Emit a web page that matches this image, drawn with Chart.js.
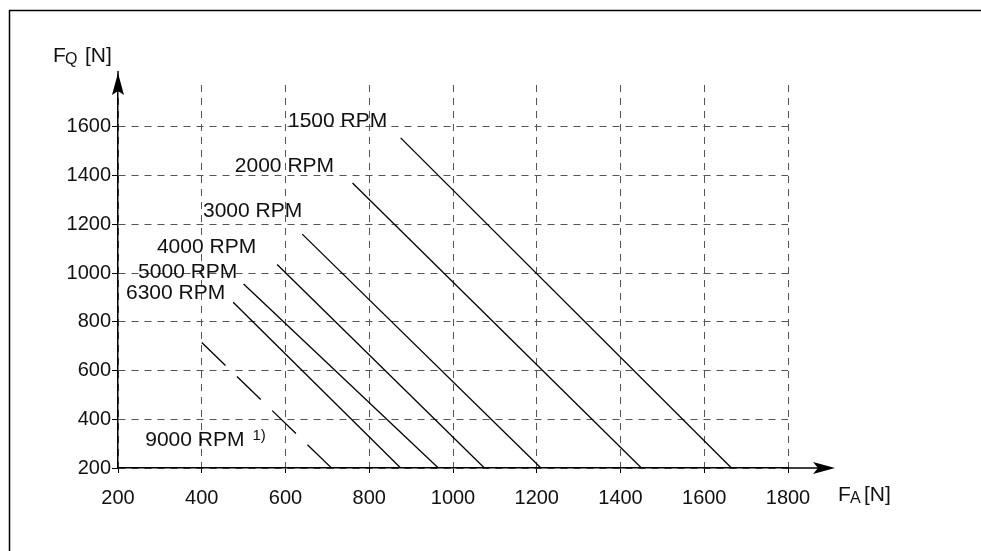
<!DOCTYPE html>
<html>
<head>
<meta charset="utf-8">
<script src="https://cdn.jsdelivr.net/npm/chart.js@4.4.0/dist/chart.umd.min.js"></script>
<style>
  html, body { margin: 0; padding: 0; background: #fff; }
  #wrap { width: 981px; height: 551px; position: relative; }
</style>
</head>
<body>
<div id="wrap"><canvas id="loadChart"></canvas></div>
<script>
// permissible radial load F_Q against axial load F_A, one line per speed
let speeds = ["1500", "2000", "3000", "4000", "5000", "6300", "9000"];
let axialStart = [875, 760, 640, 580, 500, 475, 400];
let radialStart = [1555, 1370, 1160, 1035, 955, 880, 715];
let axialEnd = [1665, 1450, 1210, 1075, 965, 875, 710];
let radialEnd = [200, 200, 200, 200, 200, 200, 200];

// where each speed caption sits (left end, baseline) in axis units
let labelAxial = [606, 479, 403, 293, 248, 219, 265];
let labelRadial = [1600, 1415, 1230, 1083, 980, 894, 290];

let xTicks = [200, 400, 600, 800, 1000, 1200, 1400, 1600, 1800];
let yTicks = [200, 400, 600, 800, 1000, 1200, 1400, 1600];

let font = "'Liberation Sans', Arial, sans-serif";
let ink = "#111";

let datasets = speeds.map((s, i) => ({
    label: s + " RPM",
    data: [{x: axialStart[i], y: radialStart[i]}, {x: axialEnd[i], y: radialEnd[i]}],
    showLine: true,
    borderColor: "#000",
    borderWidth: 1.3,
    borderDash: s === "9000" ? [33, 16] : [],
    pointRadius: 0,
    fill: false
}));

// frame, arrows, axis names and speed captions
let extras = {
    id: "extras",
    afterDraw(chart) {
        let c = chart.ctx;
        let a = chart.chartArea;
        let sx = chart.scales.x, sy = chart.scales.y;
        c.save();

        c.strokeStyle = "#000";
        c.lineWidth = 1.5;
        c.strokeRect(9.5, 10.5, 1100, 700);

        // axis extensions with arrow heads
        c.beginPath();
        c.moveTo(a.left, a.top);
        c.lineTo(a.left, a.top - 14);
        c.moveTo(a.right, a.bottom);
        c.lineTo(a.right + 30, a.bottom);
        c.stroke();
        c.fillStyle = "#000";
        c.beginPath();
        c.moveTo(a.left, a.top - 12);
        c.lineTo(a.left - 6, a.top + 10);
        c.lineTo(a.left, a.top + 6);
        c.lineTo(a.left + 6, a.top + 10);
        c.closePath();
        c.fill();
        c.beginPath();
        c.moveTo(a.right + 47, a.bottom);
        c.lineTo(a.right + 25, a.bottom - 6);
        c.lineTo(a.right + 30, a.bottom);
        c.lineTo(a.right + 25, a.bottom + 6);
        c.closePath();
        c.fill();

        c.fillStyle = ink;
        c.textBaseline = "alphabetic";
        c.textAlign = "left";

        // F_Q [N]
        let qx = a.left - 65, qy = a.top - 23;
        c.font = "21px " + font;
        c.fillText("F", qx, qy);
        c.font = "16px " + font;
        c.fillText("Q", qx + 12, qy + 2);
        c.font = "21px " + font;
        c.fillText("[N]", qx + 32, qy);

        // F_A [N]
        let ax = a.right + 50, ay = a.bottom + 33;
        c.fillText("F", ax, ay);
        c.font = "16px " + font;
        c.fillText("A", ax + 12, ay + 2);
        c.font = "21px " + font;
        c.fillText("[N]", ax + 26, ay);

        speeds.forEach((s, i) => {
            let px = sx.getPixelForValue(labelAxial[i]);
            let py = sy.getPixelForValue(labelRadial[i]);
            c.font = "21px " + font;
            let txt = s + " RPM";
            c.fillText(txt, px, py);
            if (s === "9000") {
                let w = c.measureText(txt).width;
                c.font = "15px " + font;
                c.fillText("1)", px + w + 8, py - 6);
            }
        });
        c.restore();
    }
};

let plain = v => String(v);

let chart = new Chart(document.getElementById("loadChart").getContext("2d"), {
    type: "scatter",
    data: { datasets: datasets },
    options: {
        responsive: true,
        maintainAspectRatio: false,
        animation: false,
        layout: { padding: { left: 0, top: 85, right: 193, bottom: 0 } },
        plugins: {
            legend: { display: false },
            tooltip: { enabled: false }
        },
        scales: {
            x: {
                type: "linear",
                min: 200,
                max: 1800,
                afterBuildTicks: s => { s.ticks = xTicks.map(v => ({value: v})); },
                afterFit: s => { s.height = 83; },
                grid: { color: "#555", lineWidth: 1, tickLength: 5, tickColor: "#000" },
                border: { color: "#000", width: 1.5, dash: [7, 6] },
                ticks: {
                    color: ink,
                    font: { family: font, size: 20 },
                    padding: 13,
                    maxRotation: 0,
                    autoSkip: false,
                    callback: plain
                }
            },
            y: {
                type: "linear",
                min: 200,
                max: 1772,
                afterBuildTicks: s => { s.ticks = yTicks.map(v => ({value: v})); },
                afterFit: s => { s.width = 118; },
                grid: { color: "#555", lineWidth: 1, tickLength: 6, tickColor: "#000" },
                border: { color: "#000", width: 1.5, dash: [7, 6] },
                ticks: {
                    color: ink,
                    font: { family: font, size: 20 },
                    padding: 1,
                    autoSkip: false,
                    callback: plain
                }
            }
        }
    },
    plugins: [extras]
});
</script>
</body>
</html>
